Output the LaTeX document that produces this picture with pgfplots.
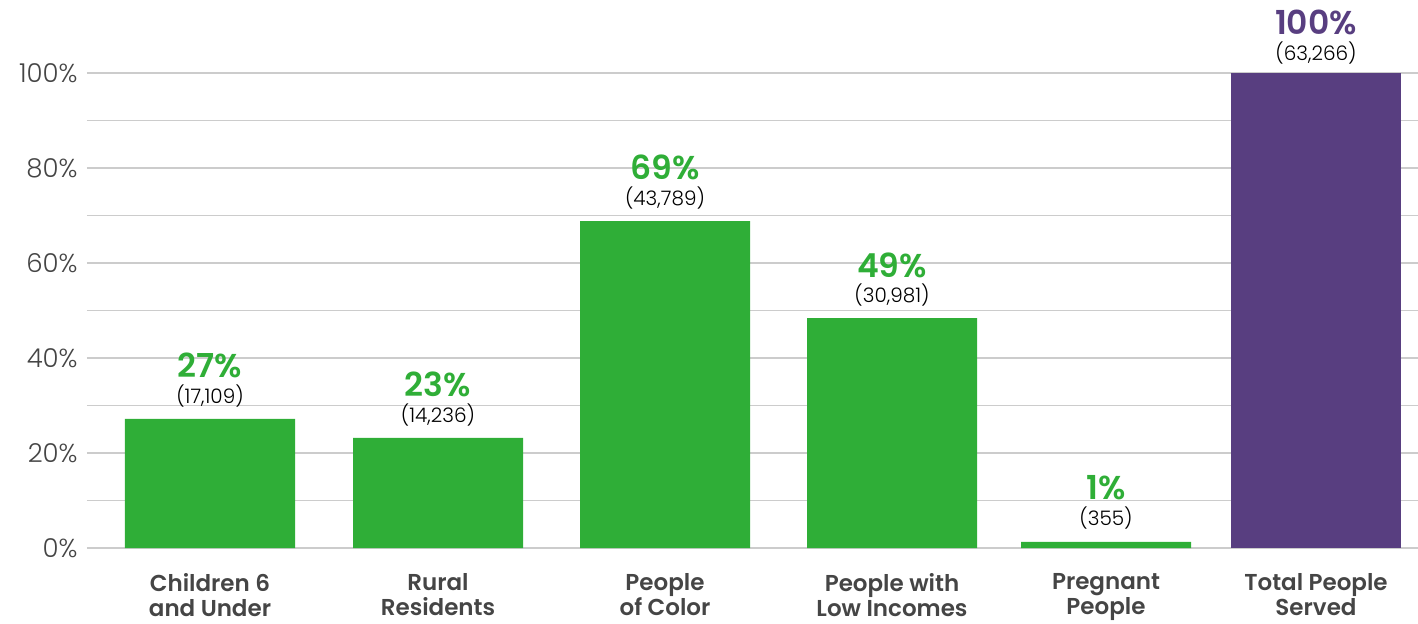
\documentclass[border=0pt]{standalone}
\usepackage{pgfplots}
\pgfplotsset{compat=1.18}
\usepackage{fontspec}
\setmainfont{Poppins}[BoldFont={Poppins SemiBold}]
\newfontfamily\lightfont{Poppins Light}
\definecolor{grn}{HTML}{2FAE37}
\definecolor{pur}{HTML}{583E80}
\definecolor{tickc}{HTML}{454545}
\definecolor{gridc}{HTML}{CCCCCC}
\begin{document}
\begin{tikzpicture}
\useasboundingbox (-43.5pt,-37.5pt) rectangle (665.5pt,274pt);
\begin{axis}[
  scale only axis, width=665.5pt, height=237.5pt,
  xmin=0, xmax=1331, ymin=0, ymax=100,
  axis line style={draw=none},
  major tick length=0pt, minor tick length=0pt,
  ytick={0,20,...,100}, minor ytick={10,30,...,90},
  yticklabels={0\%,20\%,40\%,60\%,80\%,100\%},
  ymajorgrids, yminorgrids,
  major grid style={draw=gridc, line width=0.8pt},
  minor grid style={draw=gridc, line width=0.8pt},
  yticklabel style={anchor=east, inner sep=0pt, xshift=-4.5pt, font=\lightfont\fontsize{13}{13}\selectfont, text=tickc},
  xtick={123,351,578,805,1019,1229},
  xticklabels={{Children 6\\and Under},{Rural\\Residents},{People\\of Color},{People with\\Low Incomes},{Pregnant\\People},{Total People\\Served}},
  xticklabel style={align=center, anchor=north, inner sep=0pt, yshift=-12.5pt, font=\fontsize{11.5}{12.6}\selectfont\bfseries, text=tickc},
  ybar, bar width=85pt, bar shift=0pt,
  clip=false,
]
\addplot[draw=none, fill=grn] coordinates {(123,27.2) (351,23.2) (578,68.8) (805,48.4) (1019,1.3)};
\addplot[draw=none, fill=pur] coordinates {(1229,100)};
\tikzset{cnt/.style={anchor=base, font=\lightfont\fontsize{10}{10}\selectfont, text=black},
         pct/.style={anchor=base, font=\fontsize{16.5}{16.5}\selectfont\bfseries}}
\node[cnt] at ([yshift=7.5pt]axis cs:123,27.2) {(17,109)};
\node[pct, text=grn] at ([yshift=20.5pt]axis cs:123,27.2) {27\%};
\node[cnt] at ([yshift=7.5pt]axis cs:351,23.2) {(14,236)};
\node[pct, text=grn] at ([yshift=20.5pt]axis cs:351,23.2) {23\%};
\node[cnt] at ([yshift=8pt]axis cs:578,68.8) {(43,789)};
\node[pct, text=grn] at ([yshift=21pt]axis cs:578,68.8) {69\%};
\node[cnt] at ([yshift=8pt]axis cs:805,48.4) {(30,981)};
\node[pct, text=grn] at ([yshift=20.5pt]axis cs:805,48.4) {49\%};
\node[cnt] at ([yshift=8pt]axis cs:1019,1.3) {(355)};
\node[pct, text=grn] at ([yshift=21pt]axis cs:1019,1.3) {1\%};
\node[cnt] at ([yshift=6.5pt]axis cs:1229,100) {(63,266)};
\node[pct, text=pur] at ([yshift=19.5pt]axis cs:1229,100) {100\%};
\end{axis}
\end{tikzpicture}
\end{document}
